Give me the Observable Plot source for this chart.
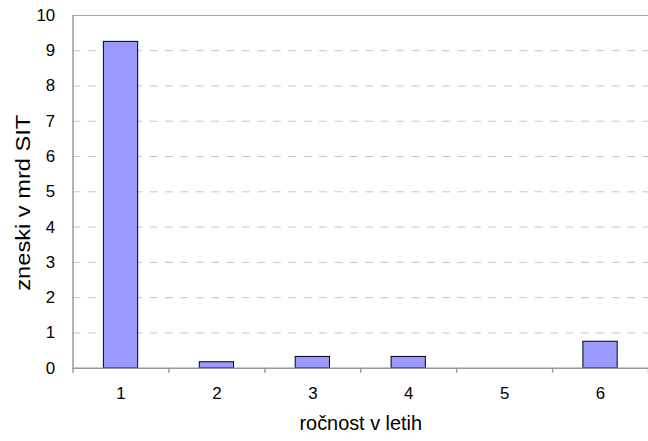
<!DOCTYPE html>
<html>
<head>
<meta charset="utf-8">
<script src="https://cdn.jsdelivr.net/npm/d3@7"></script>
<script src="https://cdn.jsdelivr.net/npm/@observablehq/plot@0.6"></script>
<style>
  html, body { margin: 0; padding: 0; background: #fff; overflow: hidden; }
  #chart svg { display: block; }
</style>
</head>
<body>
<div id="chart"></div>
<script>
const years = [1, 2, 3, 4, 5, 6];
const values = [9.25, 0.17, 0.32, 0.32, 0, 0.75];
const yTicks = [0, 1, 2, 3, 4, 5, 6, 7, 8, 9, 10];
const gridTicks = [1, 2, 3, 4, 5, 6, 7, 8, 9];
const boundaries = [0.5, 1.5, 2.5, 3.5, 4.5, 5.5, 6.5];
const xTitle = "ročnost v letih";
const yTitle = "zneski v mrd SIT";

const data = years.map((y, i) => ({year: y, value: values[i]}));
const font = "Liberation Sans, Arial, sans-serif";

const chart = Plot.plot({
  width: 652,
  height: 441,
  marginLeft: 73,
  marginRight: 0,
  marginTop: 15,
  marginBottom: 71,
  style: {fontFamily: font, fontSize: "17px", color: "#000", background: "#fff"},
  x: {type: "linear", domain: [0.5, 6.5]},
  y: {domain: [0, 10]},
  marks: [
    Plot.ruleY(gridTicks, {stroke: "#c6c6c6", strokeWidth: 1, strokeDasharray: "8,7.5"}),
    Plot.ruleY([10], {stroke: "#a0a0a0", strokeWidth: 1}),
    Plot.rectY(data, {
      x1: d => d.year - 0.5,
      x2: d => d.year + 0.5,
      y1: 0,
      y2: "value",
      insetLeft: 31,
      insetRight: 31,
      fill: "#9999ff",
      stroke: "#000",
      strokeWidth: 1
    }),
    Plot.ruleY([0], {stroke: "#999", strokeWidth: 1.5}),
    Plot.ruleX([0.5], {stroke: "#999", strokeWidth: 1.5}),
    Plot.axisX({ticks: boundaries, tickSize: 5, tickFormat: () => "", stroke: "#999", strokeWidth: 1.5, label: null}),
    Plot.axisX({ticks: years, tickSize: 0, tickPadding: 19, tickFormat: d => String(d), label: null, fontSize: 17, fill: "#000"}),
    Plot.axisY({ticks: yTicks, tickSize: 0, tickPadding: 18, label: null, fontSize: 17, fill: "#000"}),
    Plot.text([xTitle], {frameAnchor: "bottom", dy: 56, text: d => d, fontSize: 20, fill: "#000", lineAnchor: "middle", textAnchor: "middle"}),
    Plot.text([yTitle], {frameAnchor: "left", dx: -50, dy: 11, rotate: -90, text: d => d, fontSize: 20, fill: "#000", lineAnchor: "middle", textAnchor: "middle", className: "ytitle"})
  ]
});
document.getElementById("chart").appendChild(chart);
// stretch the y title along its length to match the reference
d3.select(chart).selectAll("text").filter(function() { return this.textContent === yTitle; })
  .attr("textLength", 177).attr("lengthAdjust", "spacingAndGlyphs");
</script>
</body>
</html>
